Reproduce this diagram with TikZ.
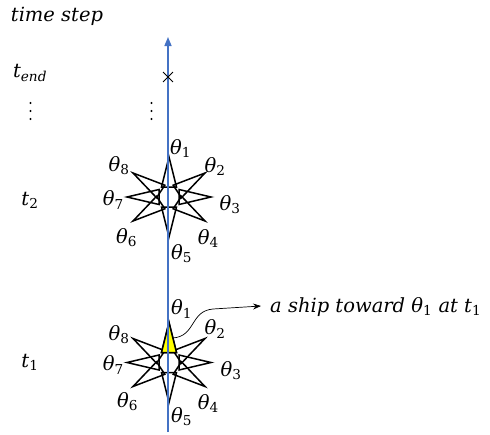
\documentclass[tikz,border=0pt]{standalone}
\usepackage{fontspec}
\setmainfont{DejaVu Serif}
\usetikzlibrary{arrows.meta,calc,shapes.misc}
\definecolor{axisblue}{HTML}{4472C4}
\definecolor{shipyellow}{HTML}{FFFF00}
\newcommand\thlab[1]{\textit{θ}\textsubscript{\upshape #1}}
\newcommand\kitepath[2]{($(#1b#2)!7.5pt!90:(#1tip#2)$) -- (#1tip#2) -- ($(#1b#2)!7.5pt!-90:(#1tip#2)$) -- cycle}
\newcommand\drawstar[1]{%
  \foreach \tx/\ty [count=\i] in {0/-40,36/-24,42/0,36/24,0/40,-36/24,-42/0,-36/-24}{%
    \coordinate (#1tip\i) at ($(#1)+(\tx,\ty)$);
    \coordinate (#1b\i) at ($(#1)!10pt!(#1tip\i)$);
    \draw[ray] \kitepath{#1}{\i};
  }}
\begin{document}
\begin{tikzpicture}[x=1pt,y=-1pt,line join=miter,
  lab/.style={inner sep=0pt,font=\fontsize{19.5}{23}\selectfont},
  ray/.style={draw=black,line width=1.5pt},
  dotmark/.style={circle,fill=black,inner sep=0pt,minimum size=2.4pt},
]
\useasboundingbox (0,0) rectangle (490,434);

% left labels
\node[lab] (timestep) at (57,16) {\textit{time step}};
\node[lab] (tend) at (30,73) {\textit{t}\textsubscript{\itshape end}};
\foreach \dy [count=\k] in {103,111,119}{
  \node[dotmark] (vl\k) at (30.5,\dy) {};
  \node[dotmark] (vr\k) at (151.5,\dy) {};
}
\node[lab] (ttwo) at (30,200) {\textit{t}\textsubscript{\upshape 2}};
\node[lab] (tone) at (30,362.5) {\textit{t}\textsubscript{\upshape 1}};

% stars
\coordinate (s2) at (169,197);
\coordinate (s1) at (169,362.5);
\drawstar{s2}
\drawstar{s1}
\filldraw[ray,fill=shipyellow] \kitepath{s1}{1};

% theta labels at t2
\node[lab] (a1) at (180.7,148.3) {\thlab{1}};
\node[lab] (a2) at (215,166.7) {\thlab{2}};
\node[lab] (a3) at (230,205) {\thlab{3}};
\node[lab] (a4) at (208.3,238.3) {\thlab{4}};
\node[lab] (a5) at (181.7,254) {\thlab{5}};
\node[lab] (a6) at (126.7,237.5) {\thlab{6}};
\node[lab] (a7) at (113.3,200) {\thlab{7}};
\node[lab] (a8) at (119,165.8) {\thlab{8}};
% theta labels at t1
\node[lab] (b1) at (181.7,309) {\thlab{1}};
\node[lab] (b2) at (215,329) {\thlab{2}};
\node[lab] (b3) at (231,370.8) {\thlab{3}};
\node[lab] (b4) at (208.3,403.3) {\thlab{4}};
\node[lab] (b5) at (181.7,417) {\thlab{5}};
\node[lab] (b6) at (127.5,401.7) {\thlab{6}};
\node[lab] (b7) at (113.3,365) {\thlab{7}};
\node[lab] (b8) at (119,335) {\thlab{8}};

% time axis
\coordinate (axbot) at (168,432);
\coordinate (axtop) at (168,37);
\draw[axisblue,line width=1.5pt,-{Triangle[length=9pt,width=7pt]}] (axbot) -- (axtop);
\node[cross out,draw,line width=0.9pt,minimum size=9pt,inner sep=0pt] (xend) at (168,77) {};

% annotation
\node[lab,anchor=base west] (note) at (270,312) {\textit{a ship toward θ\textsubscript{\upshape 1} at t\textsubscript{\upshape 1}}};
\coordinate (shipstart) at (173,338);
\coordinate (noteend) at (261,306);
\draw[line width=0.7pt,-{Stealth[length=8pt,width=6pt]}] (shipstart) .. controls (196,336) and (190,311) .. (213,309) -- (noteend);
\end{tikzpicture}
\end{document}
